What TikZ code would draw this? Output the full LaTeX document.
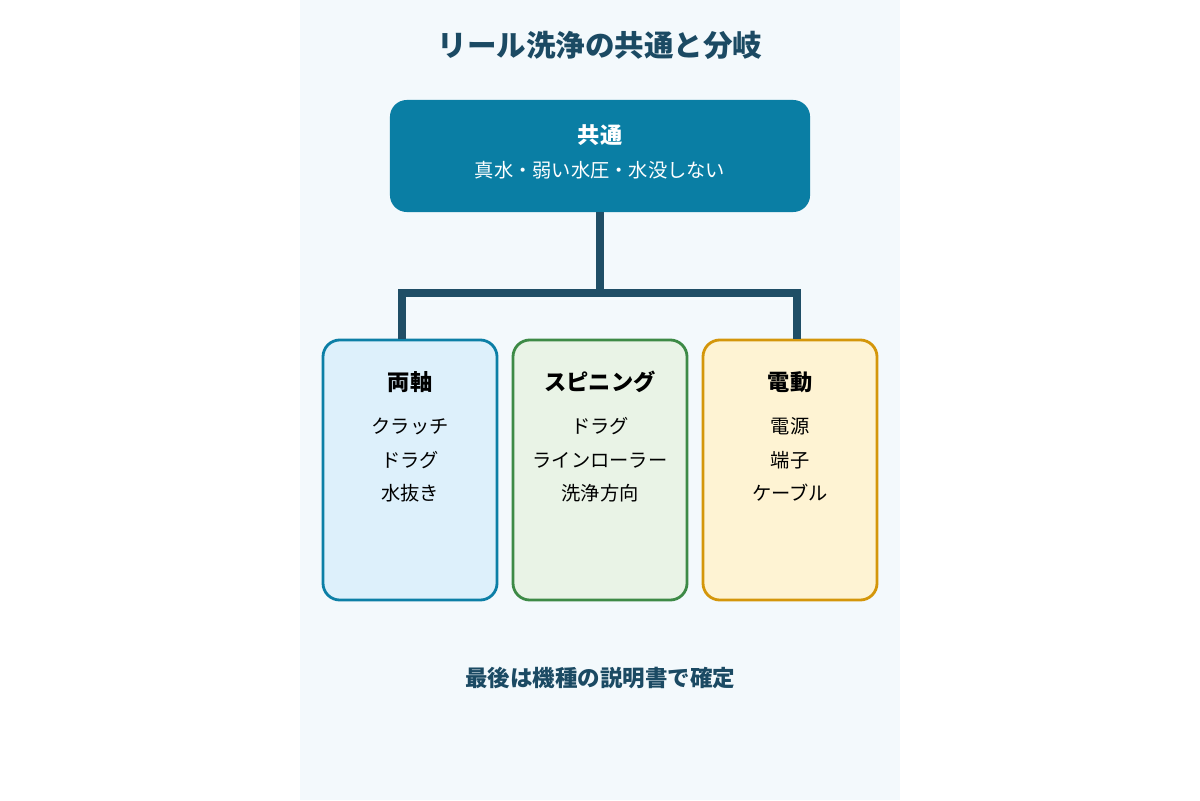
\documentclass[tikz,border=0pt]{standalone}
\usepackage{fontspec}
\setmainfont{Noto Sans CJK JP}
\usetikzlibrary{positioning, calc}
\definecolor{panel}{HTML}{F3F9FC}
\definecolor{titlec}{HTML}{1B4A63}
\definecolor{commonc}{HTML}{0A7EA4}
\definecolor{linkc}{HTML}{1F4E66}
\definecolor{blueb}{HTML}{0C7FA6}
\definecolor{bluef}{HTML}{DDF0FB}
\definecolor{greenb}{HTML}{3D8A46}
\definecolor{greenf}{HTML}{E9F3E6}
\definecolor{orangeb}{HTML}{D4960A}
\definecolor{orangef}{HTML}{FEF3D3}
\tikzset{
	kind/.style={
		draw,
		rounded corners=12pt,
		line width=2pt,
		minimum width=4.35cm,
		minimum height=6.5cm
	},
	head/.style={font=\fontsize{15.8}{18}\selectfont\bfseries},
	item/.style={font=\fontsize{13.7}{16}\selectfont}
}

\begin{document}
\begin{tikzpicture}[x=0.025cm, y=-0.025cm]
		\useasboundingbox (0,0) rectangle (1200,800);
		\fill[white] (0,0) rectangle (1200,800);
		\fill[panel] (300,0) rectangle (900,800);
		
		\node[text=titlec, font=\fontsize{21}{24}\selectfont\bfseries] (title) at (600,45) {リール洗浄の共通と分岐};
		
		% common box
		\node[fill=commonc, rounded corners=12pt, minimum width=10.5cm, minimum height=2.8cm] (common) at (600,156) {};
		\node[head, text=white] (commonhd) at (600,135) {共通};
		\node[item, text=white] (commondsc) at (600,170) {真水・弱い水圧・水没しない};
		
		% reel boxes
		\node[kind, draw=blueb, fill=bluef] (dual) at (410,470) {};
		\node[kind, draw=greenb, fill=greenf] (spin) at (600,470) {};
		\node[kind, draw=orangeb, fill=orangef] (power) at (790,470) {};
		
		% branch lines
		\coordinate (split) at (600,293);
		\coordinate (leftend) at (402,339);
		\coordinate (rightend) at (797,339);
		\begin{scope}[linkc, line width=5pt]
		\draw (common.south) -- (split);
		\draw (split) -| (leftend);
		\draw (split) -| (rightend);
		\end{scope}
		
		% box texts
		\node[head] (dualhd) at (410,382) {両軸};
		\node[item] (dual1) at (410,426) {クラッチ};
		\node[item] (dual2) at (410,460) {ドラグ};
		\node[item] (dual3) at (410,493) {水抜き};
		
		\node[head] (spinhd) at (600,382) {スピニング};
		\node[item] (spin1) at (600,426) {ドラグ};
		\node[item] (spin2) at (600,460) {ラインローラー};
		\node[item] (spin3) at (600,493) {洗浄方向};
		
		\node[head] (powerhd) at (790,382) {電動};
		\node[item] (power1) at (790,426) {電源};
		\node[item] (power2) at (790,460) {端子};
		\node[item] (power3) at (790,493) {ケーブル};
		
		\node[text=titlec, font=\fontsize{16}{18}\selectfont\bfseries] (footer) at (600,678) {最後は機種の説明書で確定};
\end{tikzpicture}
\end{document}
